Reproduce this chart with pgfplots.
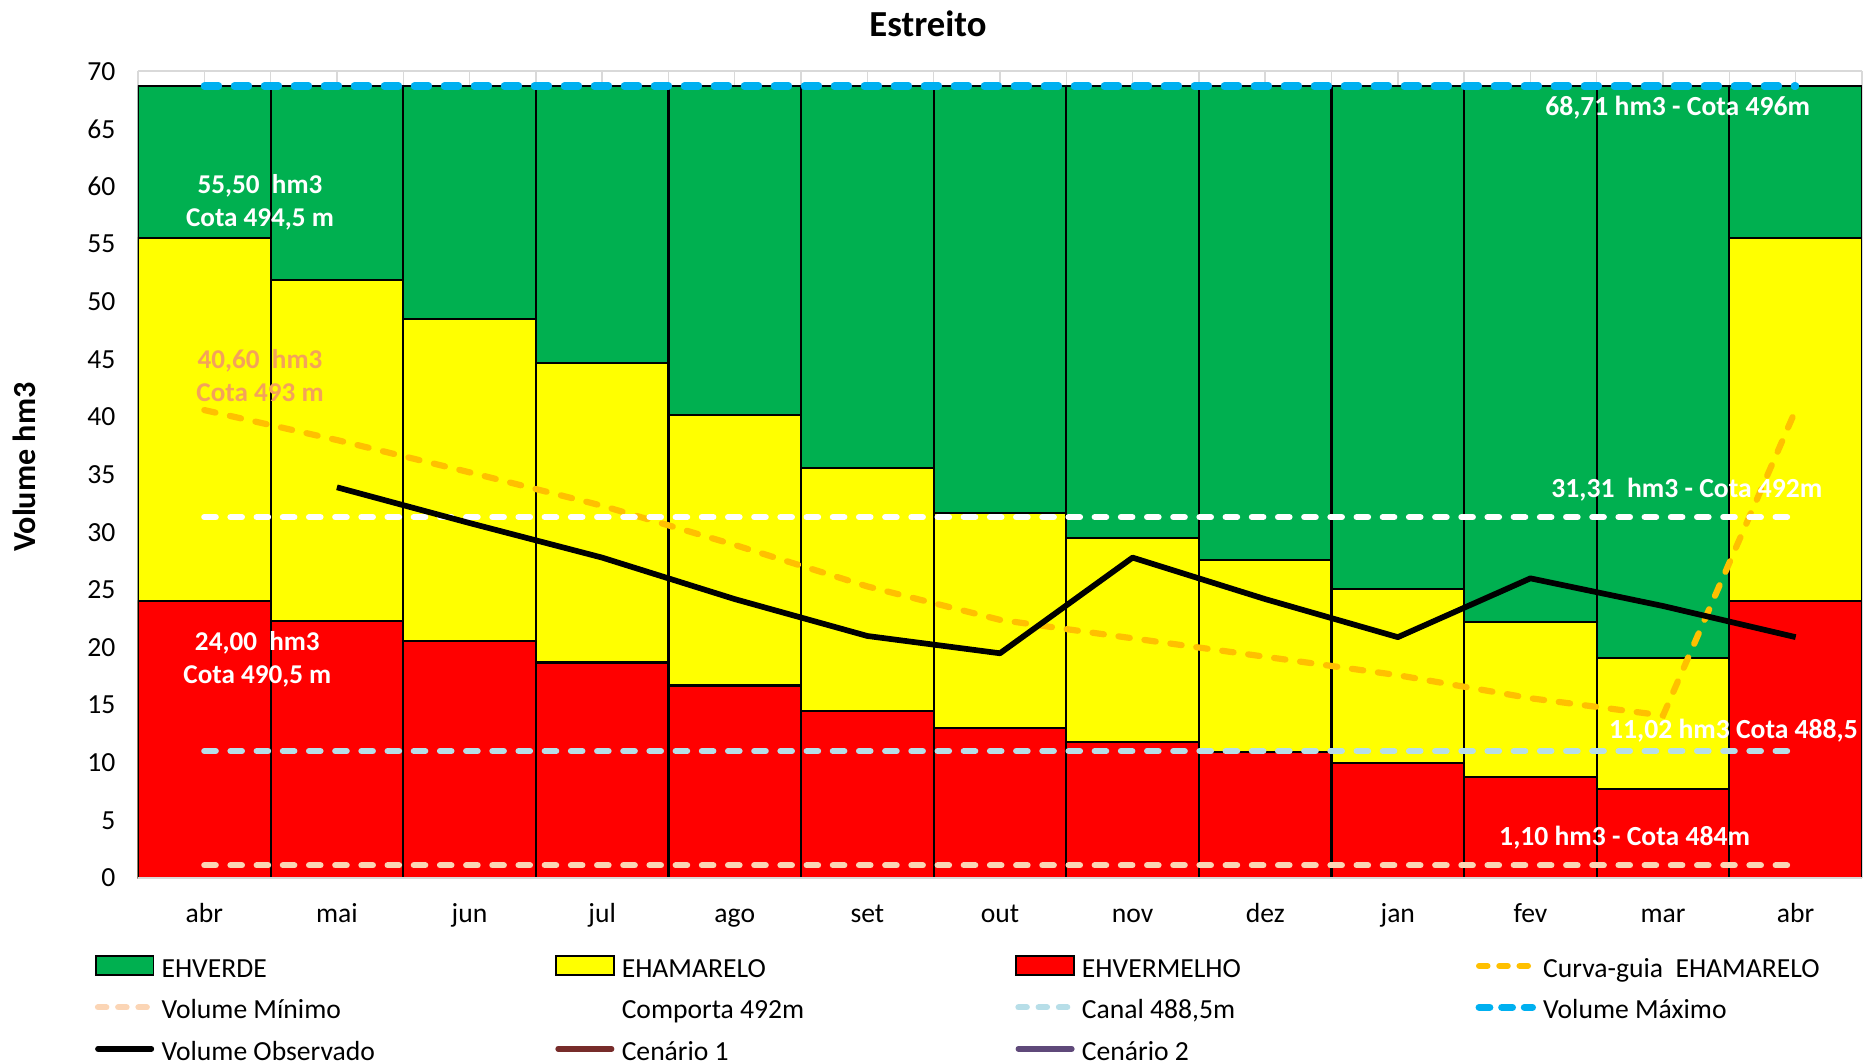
\documentclass[border=0pt]{standalone}
\usepackage{fontspec}
\setmainfont{Carlito}
\usepackage{pgfplots}
\pgfplotsset{compat=1.18}
\definecolor{EHgreen}{HTML}{00B050}
\definecolor{EHyellow}{HTML}{FFFF00}
\definecolor{EHred}{HTML}{FF0000}
\definecolor{Corange}{HTML}{FFC000}
\definecolor{Cpeach}{HTML}{FBD5B5}
\definecolor{Ccanal}{HTML}{B7DEE8}
\definecolor{Cmax}{HTML}{00B0F0}
\definecolor{Cen1}{HTML}{772C2A}
\definecolor{Cen2}{HTML}{5F497A}
\definecolor{Ctxt}{HTML}{F4A25A}
\definecolor{Cgrid}{HTML}{D9D9D9}
\pgfplotsset{
  boxleg/.style={legend image code/.code={\draw[fill=#1, draw=black, line width=0.8pt] (0.4pt,-2.3pt) rectangle (24.6pt,5.7pt);}},
  lineleg/.style={legend image code/.code={\draw[line cap=round, #1] (1.3pt,1.7pt) -- (23.7pt,1.7pt);}},
  bars/.style={ybar, bar width=1, bar shift=0pt, draw=black, line width=0.9pt, fill=#1, forget plot},
  hline/.style={line width=2.6pt, line cap=round, dash pattern=on 4.8pt off 6.2pt, #1, forget plot},
}
\begin{document}
\begin{tikzpicture}
\begin{axis}[
  at={(0pt,0pt)}, anchor=south west,
  scale only axis, width=724.1pt, height=338.9pt,
  xmin=-0.5, xmax=12.5, ymin=0, ymax=70,
  xtick={0,...,12},
  xticklabels={abr,mai,jun,jul,ago,set,out,nov,dez,jan,fev,mar,abr},
  ytick={0,5,...,70},
  minor xtick={-0.5,0.5,...,12.5},
  xmajorgrids, xminorgrids, ymajorgrids,
  grid style={draw=Cgrid, line width=0.6pt},
  minor grid style={draw=Cgrid, line width=0.6pt},
  major tick length=0pt, minor tick length=0pt,
  axis line style={draw=none},
  tick label style={font=\fontsize{11.6}{14}\selectfont},
  /pgf/number format/assume math mode=true,
  xticklabel style={text height=8.5pt, text depth=2.5pt, yshift=-6.5pt},
  yticklabel style={xshift=-6pt},
  legend columns=4, legend cell align=left,
  legend style={
    at={(0,0)}, anchor=north west, xshift=-18.1pt, yshift=-32.5pt,
    draw=none, fill=none, inner sep=0pt, outer sep=0pt,
    row sep=5.6pt,
    nodes={inner sep=0pt, text height=9pt, text depth=2.8pt, font=\fontsize{11.6}{14}\selectfont},
    /tikz/every odd column/.append style={column sep=3pt},
    /tikz/every even column/.append style={column sep=0pt},
  },
]
% bars
\addplot[bars=EHgreen] coordinates {(0,68.71) (1,68.71) (2,68.71) (3,68.71) (4,68.71) (5,68.71) (6,68.71) (7,68.71) (8,68.71) (9,68.71) (10,68.71) (11,68.71) (12,68.71)};
\addplot[bars=EHyellow] coordinates {(0,55.5) (1,51.9) (2,48.5) (3,44.7) (4,40.2) (5,35.6) (6,31.7) (7,29.5) (8,27.6) (9,25.1) (10,22.2) (11,19.1) (12,55.5)};
\addplot[bars=EHred] coordinates {(0,24.0) (1,22.3) (2,20.6) (3,18.7) (4,16.7) (5,14.5) (6,13.0) (7,11.8) (8,10.9) (9,10.0) (10,8.8) (11,7.75) (12,24.0)};
\draw[Cgrid, line width=1.2pt] (rel axis cs:0,0) -- (rel axis cs:1,0);
% Curva-guia
\addplot[hline=Corange] coordinates {(0,40.6) (1,38.0) (2,35.2) (3,32.3) (4,28.9) (5,25.3) (6,22.4) (7,20.8) (8,19.2) (9,17.6) (10,15.6) (11,14.1) (12,40.6)};
% horizontal references
\addplot[hline=Cpeach] coordinates {(0,1.10) (12,1.10)};
\addplot[hline=white] coordinates {(0,31.31) (12,31.31)};
\addplot[hline=Ccanal] coordinates {(0,11.02) (12,11.02)};
\addplot[hline={Cmax, line width=3pt, dash pattern=on 6pt off 6.6pt}] coordinates {(0,68.71) (12,68.71)};
% observed
\addplot[black, line width=2.4pt, line join=round, forget plot] coordinates {(1,33.9) (2,30.8) (3,27.8) (4,24.2) (5,21.0) (6,19.5) (7,27.8) (8,24.2) (9,20.9) (10,26.0) (11,23.6) (12,20.9)};
% annotations
\node[font=\fontsize{11.4}{13.9}\selectfont\bfseries, text=white, align=center] at (axis cs:0.42,58.65) {55,50~~hm3\\Cota 494,5 m};
\node[font=\fontsize{11.4}{13.9}\selectfont\bfseries, text=Ctxt, align=center] at (axis cs:0.42,43.6) {40,60~~hm3\\Cota 493 m};
\node[font=\fontsize{11.4}{13.9}\selectfont\bfseries, text=white, align=center] at (axis cs:0.40,19.0) {24,00~~hm3\\Cota 490,5 m};
\node[font=\fontsize{11.6}{13}\selectfont\bfseries, text=white] at (axis cs:11.11,66.8) {68,71 hm3 - Cota 496m};
\node[font=\fontsize{11.6}{13}\selectfont\bfseries, text=white] at (axis cs:11.18,33.7) {31,31~~hm3 - Cota 492m};
\node[font=\fontsize{11.6}{13}\selectfont\bfseries, text=white, anchor=west, inner sep=0pt] at (axis cs:10.59,12.8) {11,02 hm3 Cota 488,5 m};
\node[font=\fontsize{11.6}{13}\selectfont\bfseries, text=white] at (axis cs:10.71,3.5) {1,10 hm3 - Cota 484m};
% legend
\addlegendimage{boxleg=EHgreen}
\addlegendentry{\makebox[165.3pt][l]{EHVERDE}}
\addlegendimage{boxleg=EHyellow}
\addlegendentry{\makebox[165.3pt][l]{EHAMARELO}}
\addlegendimage{boxleg=EHred}
\addlegendentry{\makebox[165.3pt][l]{EHVERMELHO}}
\addlegendimage{lineleg={Corange, line width=2.6pt, dash pattern=on 3.5pt off 5pt}}
\addlegendentry{\makebox[165.3pt][l]{Curva-guia~~EHAMARELO}}
\addlegendimage{lineleg={Cpeach, line width=2.6pt, dash pattern=on 3.5pt off 5pt}}
\addlegendentry{\makebox[165.3pt][l]{Volume Mínimo}}
\addlegendimage{lineleg={white, line width=2.6pt, dash pattern=on 3.5pt off 5pt}}
\addlegendentry{\makebox[165.3pt][l]{Comporta 492m}}
\addlegendimage{lineleg={Ccanal, line width=2.6pt, dash pattern=on 3.5pt off 5pt}}
\addlegendentry{\makebox[165.3pt][l]{Canal 488,5m}}
\addlegendimage{lineleg={Cmax, line width=3pt, dash pattern=on 4.5pt off 5pt}}
\addlegendentry{\makebox[165.3pt][l]{Volume Máximo}}
\addlegendimage{lineleg={black, line width=2.4pt}}
\addlegendentry{\makebox[165.3pt][l]{Volume Observado}}
\addlegendimage{lineleg={Cen1, line width=2.4pt}}
\addlegendentry{\makebox[165.3pt][l]{Cenário 1}}
\addlegendimage{lineleg={Cen2, line width=2.4pt}}
\addlegendentry{\makebox[165.3pt][l]{Cenário 2}}
\end{axis}
\node[font=\fontsize{15.4}{17}\selectfont\bfseries] at (331.8pt,358.7pt) {Estreito};
\node[rotate=90, font=\fontsize{13.5}{15}\selectfont\bfseries] at (-47.9pt,172.6pt) {Volume hm3};
\pgfresetboundingbox
\path[use as bounding box] (-57.96pt,-77.7pt) rectangle (725.8pt,368.8pt);
\end{tikzpicture}
\end{document}
